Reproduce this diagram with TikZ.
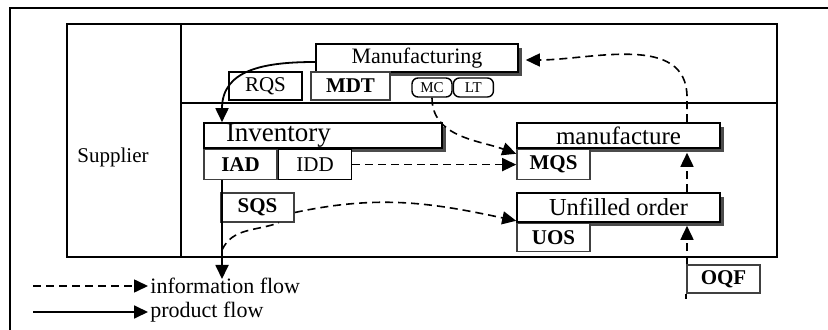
\documentclass[tikz,border=0pt]{standalone}
\usepackage{fontspec}
\setmainfont{Liberation Serif}
\usepackage{tikz}
\usetikzlibrary{arrows.meta, positioning, shadows, backgrounds}
\newcommand{\setfs}[1]{\fontsize{#1}{#1}\selectfont}

\begin{document}
\begin{tikzpicture}[
      x=0.5pt, y=-0.5pt,
      node distance = 0pt,
      frame/.style={draw, line width=0.9pt},
      block/.style={rectangle, draw, line width=0.8pt, fill=white, inner sep=0pt, minimum width=101pt, minimum height=12.5pt, text centered, font=\setfs{12.5}, drop shadow={shadow xshift=2pt, shadow yshift=-2pt, fill=black!70, opacity=1}},
      tag/.style={rectangle, draw, line width=0.8pt, fill=white, inner sep=0pt, minimum width=36.5pt, minimum height=14.5pt, text centered, font=\setfs{10.5}},
      grey_tag/.style={tag, draw=black!75, font=\setfs{10.5}\bfseries},
      pill/.style={rectangle, draw, rounded corners=3pt, line width=0.7pt, fill=white, inner sep=0pt, minimum width=20pt, minimum height=9.5pt, font=\setfs{7.5}},
      legend/.style={inner sep=1pt, font=\setfs{11}},
      tip/.style={-{Triangle[length=7pt, width=6.5pt]}},
      info/.style={draw, tip, line width=0.8pt, dash pattern=on 4pt off 2.5pt},
      info_plain/.style={draw, line width=0.8pt, dash pattern=on 4pt off 2.5pt},
      prod/.style={draw, tip, line width=0.9pt}
  ]
  \useasboundingbox (0,0) rectangle (828,330);

  % supplier part
  \node [font=\setfs{10.5}] (sup) at (113,157) {Supplier};

  % manufacturer level
  \node [block, minimum height=14pt, font=\setfs{11}] (mfg) at (417,58) {Manufacturing};
  \node [tag, minimum height=14pt] (rqs) at (265.5,86) {RQS};
  \node [grey_tag, minimum width=39.5pt, minimum height=14pt] (mdt) at (350.5,86) {MDT};
  \node [pill] (mc) at (432,87.5) {MC};
  \node [pill, right=of mc] (lt) {LT};

  % retailer level
  \node [block, text width=119pt, align=left, font=\setfs{13.5}] (inv) at (323,135.5) {\hspace*{11pt}Inventory};
  \node [grey_tag, minimum height=15pt, below right=0pt and 0pt of inv.south west] (iad) {IAD};
  \node [tag, minimum height=15pt, right=of iad] (idd) {IDD};
  \node [grey_tag] (sqs) at (257.5,207.5) {SQS};

  \node [block, minimum width=101.5pt] (man) at (618.5,135.5) {manufacture};
  \node [grey_tag, minimum height=15pt, below right=0pt and 0pt of man.south west] (mqs) {MQS};
  \node [block, minimum width=101.5pt, minimum height=14.5pt, font=\setfs{12.2}] (ufo) at (618.5,207.5) {Unfilled order};
  \node [grey_tag, minimum height=14pt, below right=0pt and 0pt of ufo.south west] (uos) {UOS};
  \node [grey_tag, minimum height=14pt] (oqf) at (723.5,279) {OQF};

  \coordinate (pline) at (222,0);
  \coordinate (sell) at (222,250);
  \coordinate (sold) at (222,279);
  \coordinate (qcol) at (687,0);

  % legend
  \coordinate (legi) at (33,286);
  \coordinate (legp) at (33,312);
  \node [legend, anchor=west] (infolab) at (148,286) {information flow};
  \node [legend, anchor=west] (prodlab) at (148,312) {product flow};

  \path [prod] ([yshift=-2pt]mfg.west) to[out=180, in=90, looseness=1.2] (inv.north -| pline);
  \path [prod] (iad.south -| pline) -- (sold);
  \path [info_plain] (sell) to[out=65, in=200] ([xshift=-8pt]sqs.south east);
  \path [info] ([yshift=-2.5pt]sqs.east) to[out=12, in=168] ([yshift=1pt]ufo.south west);
  \path [info] (mc.south) to[out=-90, in=160] ([yshift=-2.5pt]mqs.north west);
  \path [info] (idd.east) -- (idd.east -| mqs.west);
  \path [info] (man.north -| qcol) -- ++(0,-25) to[out=90, in=0] ([xshift=3.5pt, yshift=-1pt]mfg.east);
  \path [info] (ufo.north -| qcol) -- ([yshift=-2pt]man.south -| qcol);
  \path [info] (oqf.north west -| qcol) -- ([yshift=-1.5pt]ufo.south -| qcol);
  \path [draw, line width=0.8pt] (oqf.south west) -- ++(0,5);
  \path [info] (legi) -- (infolab.west);
  \path [prod] (legp) -- (prodlab.west);

  \begin{scope}[on background layer]
    \draw [frame] (828,8) -- (10,8) -- (10,332);
    \draw [frame] (67,24) rectangle (777,257);
    \draw [frame] (181,24) -- (181,257);
    \draw [frame] (181,103) -- (777,103);
  \end{scope}

\end{tikzpicture}
\end{document}
